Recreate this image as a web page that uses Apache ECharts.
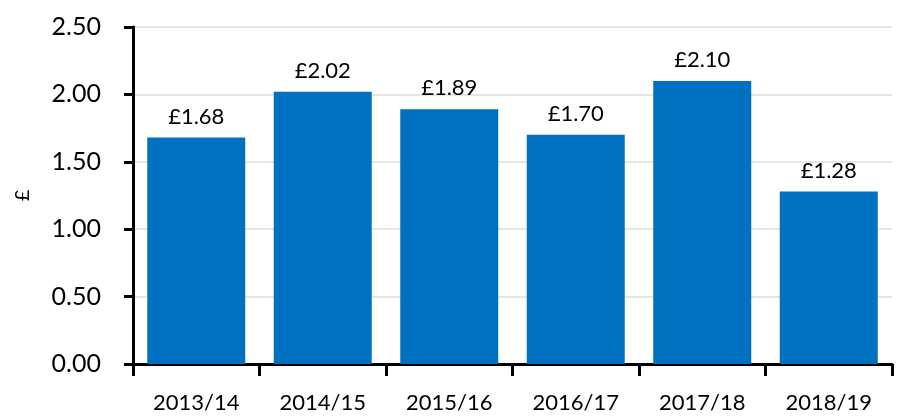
<!DOCTYPE html>
<html>
<head>
<meta charset="utf-8">
<script src="https://cdn.jsdelivr.net/npm/echarts@6/dist/echarts.min.js"></script>
<style>
  html, body { margin: 0; padding: 0; background: #fff; }
  #chart { width: 902px; height: 420px; }
</style>
</head>
<body>
<div id="chart"></div>
<script>
const years = ['2013/14', '2014/15', '2015/16', '2016/17', '2017/18', '2018/19']
const values = [1.68, 2.02, 1.89, 1.70, 2.10, 1.28]
const yTicks = [0, 0.5, 1, 1.5, 2, 2.5]

const chart = echarts.init(document.getElementById('chart'))
const font = 'Lato, "Open Sans", sans-serif'

chart.setOption({
  animation: false,
  grid: { left: 133, right: 10, top: 27, bottom: 56 },
  xAxis: {
    type: 'category',
    data: years,
    axisLine: { lineStyle: { color: '#000', width: 3 } },
    axisTick: { show: true, length: 12, lineStyle: { color: '#000', width: 3 } },
    axisLabel: { color: '#000', fontSize: 22, fontFamily: font, margin: 28 }
  },
  yAxis: {
    type: 'value',
    min: yTicks[0],
    max: yTicks[yTicks.length - 1],
    interval: 0.5,
    name: '£',
    nameLocation: 'middle',
    nameGap: 100,
    nameRotate: 90,
    nameTextStyle: { color: '#000', fontSize: 20, fontFamily: font },
    axisLine: { show: true, lineStyle: { color: '#000', width: 3 } },
    axisTick: { show: true, length: 9, lineStyle: { color: '#000', width: 3 } },
    axisLabel: {
      color: '#000', fontSize: 25, fontFamily: font, margin: 32,
      formatter: v => v.toFixed(2)
    },
    splitLine: { lineStyle: { color: '#e6e6e6', width: 2 } }
  },
  series: [{
    type: 'bar',
    data: values,
    barWidth: 98,
    itemStyle: { color: '#0070C0' },
    label: {
      show: true,
      position: 'top',
      distance: 10,
      color: '#000',
      fontSize: 22,
      fontFamily: font,
      formatter: p => '£' + p.value.toFixed(2)
    }
  }]
})
</script>
</body>
</html>
